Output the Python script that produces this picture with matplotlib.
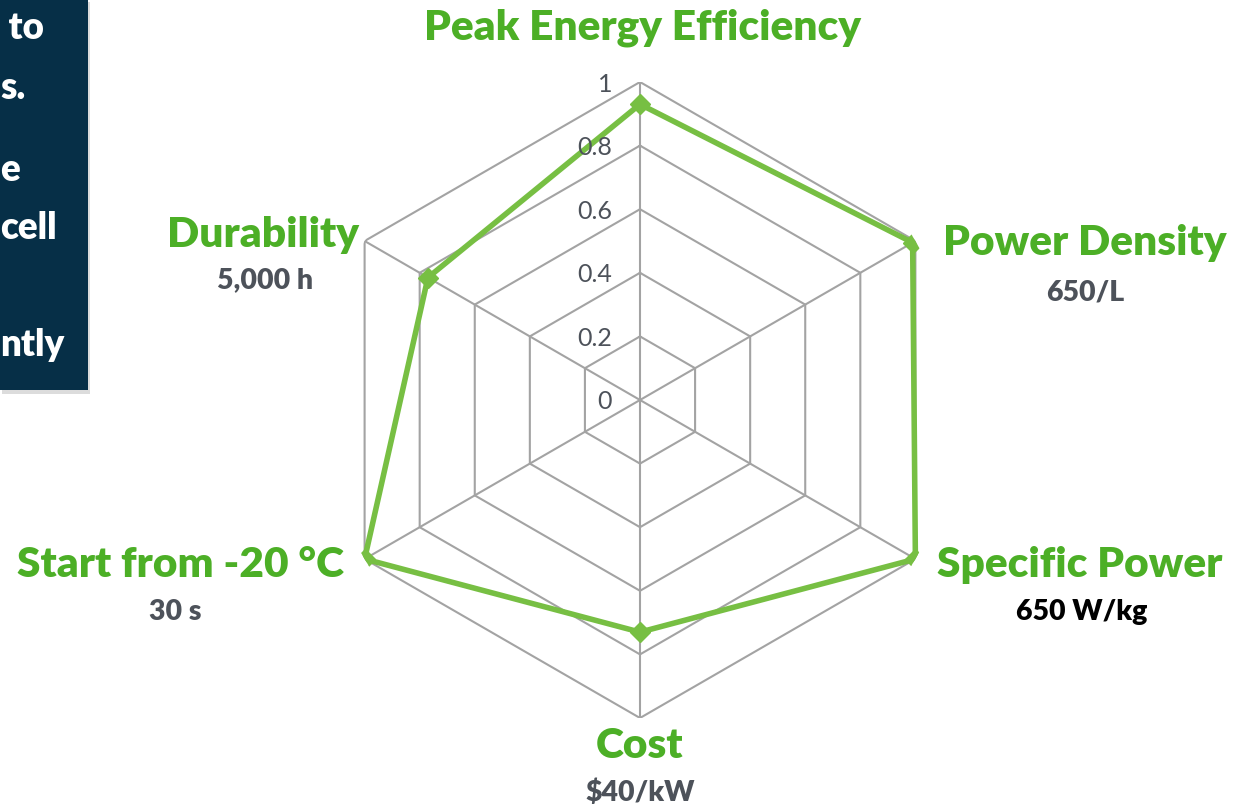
import numpy as np
import matplotlib.pyplot as plt
from matplotlib.patches import Rectangle

# chart values
categories = ['Peak Energy Efficiency', 'Power Density', 'Specific Power',
              'Cost', 'Start from -20 °C', 'Durability']
targets = ['', '650/L', '650 W/kg', '$40/kW', '30 s', '5,000 h']
values = [0.93, 0.99, 1.0, 0.73, 1.0, 0.77]
levels = [0.2, 0.4, 0.6, 0.8, 1.0]
tick_labels = ['0', '0.2', '0.4', '0.6', '0.8', '1']

W, H = 1235, 810
green_txt = '#4caf26'
green_line = '#77bf43'
grid_col = '#a3a3a3'
gray_txt = '#4d525a'

plt.rcParams['font.family'] = ['Lato', 'DejaVu Sans']

fig = plt.figure(figsize=(W / 100, H / 100), dpi=100)
fig.patch.set_facecolor('white')

def fx(px):
    return px / W

def fy(py):
    return 1 - py / H

# polar axes: centre (640, 400) px, radius 318 px
cx, cy, r = 640, 400, 318
ax = fig.add_axes([fx(cx - r), fy(cy + r), 2 * r / W, 2 * r / H], projection='polar')
ax.set_theta_offset(np.pi / 2)
ax.set_theta_direction(-1)
ax.set_ylim(0, 1)
ax.axis('off')

n = len(categories)
angles = np.arange(n) * 2 * np.pi / n
closed = np.append(angles, angles[0])

# hexagon grid
for lv in levels:
    ax.plot(closed, [lv] * (n + 1), color=grid_col, lw=1.5, zorder=1)
for a in angles:
    ax.plot([a, a], [0, 1], color=grid_col, lw=1.5, zorder=1)

# data series
vals = values + [values[0]]
ax.plot(closed, vals, color=green_line, lw=4, zorder=3)
ax.plot(angles, values, 'D', color=green_line, ms=10, zorder=4)

# radial tick labels
for i, t in enumerate(tick_labels):
    y = cy - i * 0.2 * r + 2
    fig.text(fx(612), fy(y), t, ha='right', va='center', fontsize=18, color=gray_txt)

# category labels (pixel anchors)
cat_pos = [(643, 28), (1085, 243), (1080, 565), (640, 746), (180, 565), (263, 235)]
sub_pos = [None, (1085, 293), (1082, 612), (640, 793), (175, 612), (265, 280)]
for i, name in enumerate(categories):
    x, y = cat_pos[i]
    fig.text(fx(x), fy(y), name, ha='center', va='center', fontsize=30.5,
             fontweight='heavy', color=green_txt)
    if sub_pos[i] is not None:
        sx, sy = sub_pos[i]
        col = 'black' if name == 'Specific Power' else gray_txt
        fig.text(fx(sx), fy(sy), targets[i], ha='center', va='center',
                 fontsize=20.5, fontweight='heavy', color=col)

# clipped navy text box on the left
fig.patches.append(Rectangle((fx(2), fy(394)), fx(88), 392 / H, transform=fig.transFigure,
                             facecolor='#dcdcdc', edgecolor='none', zorder=0))
fig.patches.append(Rectangle((0, fy(390)), fx(88), 390 / H, transform=fig.transFigure,
                             facecolor='#062f47', edgecolor='none', zorder=1))
box_lines = [(' to', 28), ('s.', 88), ('e', 170), ('cell', 228), ('ntly', 345)]
for txt, y in box_lines:
    fig.text(fx(0), fy(y), txt, ha='left', va='center', fontsize=26.5,
             fontweight='heavy', color='white')

fig.savefig('out.png', dpi=100)
